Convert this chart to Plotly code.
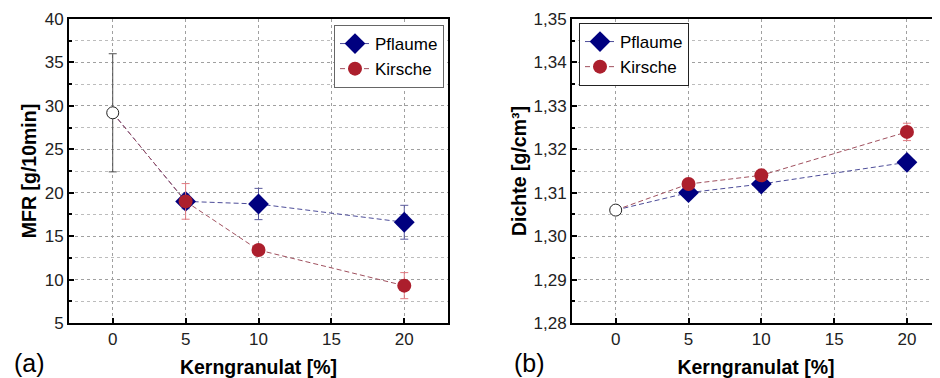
import plotly.graph_objects as go

# ---- data ----
x_pct = [5, 10, 20]
neat_x = [0]

mfr_neat = [29.2]
mfr_neat_err = [6.8]
mfr_pflaume = [19.0, 18.7, 16.6]
mfr_pflaume_err = [0.85, 1.8, 1.95]
mfr_kirsche = [19.0, 13.4, 9.3]
mfr_kirsche_err = [2.05, 0.5, 1.5]

dichte_neat = [1.306]
dichte_neat_err = [0.0005]
dichte_pflaume = [1.310, 1.312, 1.317]
dichte_pflaume_err = [0.0007, 0.0007, 0.0008]
dichte_kirsche = [1.312, 1.314, 1.324]
dichte_kirsche_err = [0.0008, 0.0008, 0.002]

x_ticks = [0, 5, 10, 15, 20]

C_PF = "#00007f"
C_KI = "#ac1f2d"
C_PF_LINE = "#4d4d99"
C_KI_LINE = "#a0505e"
C_PF_ERR = "#5a5a9c"
C_KI_ERR = "#e07a80"
DASH = "5px,3px"

FONT = "Liberation Sans, Arial, sans-serif"

# page body has an 8px margin -> figure is 8px smaller in each direction
W, H = 932, 370

fig = go.Figure()


def add_panel(xa, ya, neat, neat_err, pf, pf_err, ki, ki_err, legend):
    # connectors from neat point to first filled point
    for vals, col in ((pf, C_PF_LINE), (ki, C_KI_LINE)):
        fig.add_trace(go.Scatter(
            x=neat_x + x_pct[:1], y=neat + vals[:1], mode="lines",
            line=dict(color=col, width=1, dash=DASH),
            showlegend=False, hoverinfo="skip", xaxis=xa, yaxis=ya))
    fig.add_trace(go.Scatter(
        x=x_pct, y=pf, name="Pflaume", mode="lines+markers",
        line=dict(color=C_PF_LINE, width=1, dash=DASH),
        marker=dict(symbol="diamond", size=16, color=C_PF),
        error_y=dict(type="data", array=pf_err, color=C_PF_ERR, thickness=1, width=4),
        xaxis=xa, yaxis=ya, legend=legend))
    fig.add_trace(go.Scatter(
        x=x_pct, y=ki, name="Kirsche", mode="lines+markers",
        line=dict(color=C_KI_LINE, width=1, dash=DASH),
        marker=dict(symbol="circle", size=14, color=C_KI),
        error_y=dict(type="data", array=ki_err, color=C_KI_ERR, thickness=1, width=4),
        xaxis=xa, yaxis=ya, legend=legend))
    fig.add_trace(go.Scatter(
        x=neat_x, y=neat, mode="markers", showlegend=False,
        marker=dict(symbol="circle", size=12, color="white",
                    line=dict(color="#222222", width=1)),
        error_y=dict(type="data", array=neat_err, color="#505050", thickness=1, width=4),
        xaxis=xa, yaxis=ya))


add_panel("x", "y", mfr_neat, mfr_neat_err, mfr_pflaume, mfr_pflaume_err,
          mfr_kirsche, mfr_kirsche_err, "legend")
add_panel("x2", "y2", dichte_neat, dichte_neat_err, dichte_pflaume, dichte_pflaume_err,
          dichte_kirsche, dichte_kirsche_err, "legend2")

grid_major = dict(showgrid=True, gridcolor="#a0a0a0", griddash="dot", gridwidth=1)
axis_common = dict(showline=True, linecolor="black", linewidth=2, ticks="inside",
                   ticklen=5, tickcolor="black", tickwidth=1.5, zeroline=False,
                   automargin=False,
                   tickfont=dict(family=FONT, size=17, color="#222"))

TITLE_FONT = dict(family=FONT, size=19.5, color="black")

xcommon = dict(**axis_common, **grid_major, tickvals=x_ticks,
               title=dict(text="<b>Kerngranulat [%]</b>", font=TITLE_FONT, standoff=12))

ydom = [1 - 315 / H, 1 - 11 / H]

fig.update_layout(
    width=W, height=H,
    margin=dict(l=0, r=0, t=0, b=0, autoexpand=False),
    paper_bgcolor="white", plot_bgcolor="white",
    separators=", ",
    xaxis=dict(**xcommon, domain=[61 / W, 440 / W], range=[-3, 23], mirror=True, anchor="y"),
    yaxis=dict(**axis_common, **grid_major, domain=ydom, range=[5, 40],
               dtick=5, mirror=True, anchor="x",
               minor=dict(dtick=2.5, showgrid=True, gridcolor="#bcbcbc", griddash="dot",
                          ticks="inside", ticklen=3, tickcolor="black"),
               title=dict(text="<b>MFR [g/10min]</b>", font=TITLE_FONT, standoff=3)),
    xaxis2=dict(**xcommon, domain=[564 / W, 1.0], range=[-3, 22.27], mirror=True, anchor="y2"),
    yaxis2=dict(**axis_common, **grid_major, domain=ydom, range=[1.28, 1.35],
                dtick=0.01, tickformat=".2f", mirror=False, anchor="x2",
                minor=dict(dtick=0.005, showgrid=True, gridcolor="#bcbcbc", griddash="dot",
                           ticks="inside", ticklen=3, tickcolor="black"),
                title=dict(text="<b>Dichte [g/cm³]</b>", font=TITLE_FONT, standoff=2)),
    legend=dict(x=326 / W, y=1 - 17 / H, xanchor="left", yanchor="top", bgcolor="white",
                bordercolor="#666", borderwidth=1, font=dict(family=FONT, size=17, color="black"),
                tracegroupgap=0, itemwidth=30),
    legend2=dict(x=571 / W, y=1 - 15 / H, xanchor="left", yanchor="top", bgcolor="white",
                 bordercolor="#222", borderwidth=1, font=dict(family=FONT, size=17, color="black"),
                 tracegroupgap=0, itemwidth=30),
    annotations=[
        dict(text="(a)", x=4 / W, y=1 - 355 / H, xref="paper", yref="paper", xanchor="left",
             yanchor="middle", showarrow=False, font=dict(family=FONT, size=25, color="black")),
        dict(text="(b)", x=504 / W, y=1 - 355 / H, xref="paper", yref="paper", xanchor="left",
             yanchor="middle", showarrow=False, font=dict(family=FONT, size=25, color="black")),
    ],
)

fig.write_html("out.html")
